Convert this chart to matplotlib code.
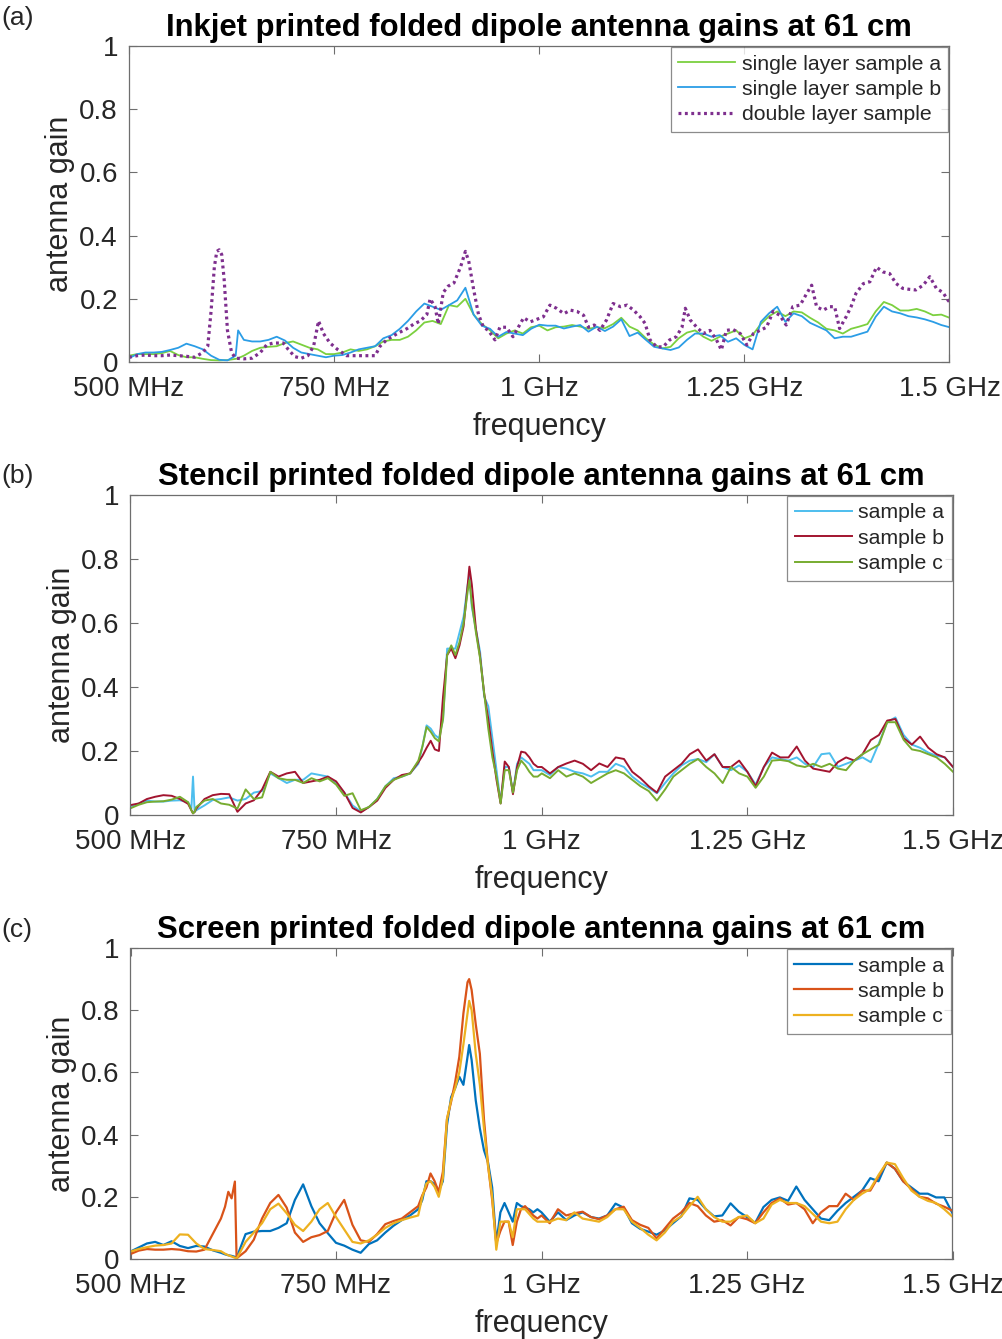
import numpy as np
import matplotlib
matplotlib.use("Agg")
import matplotlib.pyplot as plt

plt.rcParams['font.family'] = ['Liberation Sans', 'DejaVu Sans']

# ---------------- data ----------------
xtick_vals = [500, 750, 1000, 1250, 1500]
xtick_labels = ['500 MHz', '750 MHz', '1 GHz', '1.25 GHz', '1.5 GHz']
ytick_vals = [0, 0.2, 0.4, 0.6, 0.8, 1.0]
ytick_labels = ['0', '0.2', '0.4', '0.6', '0.8', '1']

titles = ['Inkjet printed folded dipole antenna gains at 61 cm',
          'Stencil printed folded dipole antenna gains at 61 cm',
          'Screen printed folded dipole antenna gains at 61 cm']
panel_tags = ['(a)', '(b)', '(c)']

# ---- panel (a): inkjet ----
freq_a = list(range(500, 631, 10)) + [633] + list(range(640, 1501, 10))
labels_a = ['single layer sample a', 'single layer sample b', 'double layer sample']
inkjet_single_a = [
    0.02, 0.025, 0.025, 0.025, 0.028, 0.035, 0.022, 0.015, 0.015, 0.01, 0.006, 0.005, 0.006, 0.01,
    0.012,
    0.02, 0.035, 0.045, 0.048, 0.05, 0.06, 0.065, 0.055, 0.045, 0.04, 0.025, 0.025, 0.03, 0.04,
    0.035, 0.04, 0.05, 0.065, 0.07, 0.07, 0.08, 0.10, 0.125, 0.13, 0.12, 0.18, 0.175, 0.20, 0.15,
    0.12, 0.10, 0.075, 0.09, 0.10, 0.09, 0.11, 0.115,
    0.10, 0.11, 0.112, 0.117, 0.112, 0.105, 0.11, 0.107, 0.12, 0.14, 0.112, 0.10, 0.075, 0.055,
    0.043, 0.048, 0.075, 0.093, 0.10, 0.08, 0.067, 0.08, 0.09, 0.10, 0.075, 0.085, 0.12, 0.145,
    0.16, 0.145, 0.16, 0.157, 0.14, 0.125, 0.105, 0.10, 0.09, 0.105, 0.112, 0.12, 0.16, 0.19,
    0.18, 0.163, 0.163, 0.168, 0.16, 0.148, 0.15, 0.14]
inkjet_single_b = [
    0.012, 0.025, 0.03, 0.03, 0.032, 0.038, 0.045, 0.058, 0.05, 0.04, 0.02, 0.007, 0.005, 0.02,
    0.10,
    0.07, 0.065, 0.065, 0.07, 0.08, 0.068, 0.045, 0.03, 0.025, 0.02, 0.015, 0.02, 0.022, 0.03,
    0.04, 0.045, 0.05, 0.075, 0.085, 0.105, 0.13, 0.16, 0.185, 0.175, 0.165, 0.18, 0.195, 0.235,
    0.15, 0.115, 0.105, 0.08, 0.095, 0.09, 0.085, 0.105, 0.118,
    0.115, 0.115, 0.106, 0.112, 0.117, 0.096, 0.112, 0.098, 0.112, 0.135, 0.082, 0.093, 0.07,
    0.048, 0.043, 0.038, 0.046, 0.07, 0.09, 0.09, 0.08, 0.085, 0.064, 0.075, 0.054, 0.04, 0.127,
    0.154, 0.175, 0.127, 0.154, 0.145, 0.124, 0.112, 0.10, 0.075, 0.08, 0.08, 0.088, 0.096, 0.143,
    0.175, 0.16, 0.154, 0.145, 0.141, 0.135, 0.127, 0.117, 0.11]
freq_a_double = [
    500, 510, 520, 530, 540, 550, 560, 570, 580, 590, 596, 600, 604, 607, 610, 613, 616, 620, 625,
    630, 640, 650, 660, 668, 676, 688, 694, 702, 710, 718, 725, 731, 737, 745, 754, 765, 775, 790,
    800, 806, 814, 827, 839, 847, 855, 863, 867, 873, 877, 883, 889, 896, 904, 910, 914, 920, 926,
    932, 938, 946, 952, 960, 968, 981, 989, 1005, 1013, 1021, 1030, 1038, 1046, 1054, 1060, 1067,
    1074, 1082, 1090, 1099, 1107, 1115, 1123, 1129, 1135, 1143, 1151, 1159, 1167, 1174, 1178, 1184,
    1192, 1200, 1208, 1216, 1222, 1228, 1236, 1245, 1253, 1261, 1269, 1277, 1285, 1293, 1301, 1309,
    1318, 1326, 1332, 1338, 1346, 1354, 1360, 1366, 1374, 1380, 1386, 1395, 1403, 1411, 1419, 1427,
    1435, 1443, 1451, 1459, 1468, 1476, 1484, 1492, 1498, 1500]
inkjet_double = [
    0.015, 0.02, 0.022, 0.02, 0.02, 0.022, 0.02, 0.018, 0.015, 0.03, 0.05, 0.16, 0.30, 0.35, 0.355,
    0.34, 0.26, 0.10, 0.03, 0.012, 0.01, 0.012, 0.03, 0.055, 0.06, 0.06, 0.04, 0.017, 0.012, 0.02,
    0.05, 0.13, 0.09, 0.06, 0.04, 0.02, 0.02, 0.02, 0.02, 0.05, 0.07, 0.09, 0.106, 0.12, 0.13,
    0.15, 0.20, 0.175, 0.12, 0.22, 0.24, 0.25, 0.30, 0.35, 0.32, 0.23, 0.15, 0.11, 0.10, 0.07,
    0.11, 0.11, 0.08, 0.14, 0.127, 0.143, 0.18, 0.17, 0.153, 0.164, 0.16, 0.148, 0.11, 0.117,
    0.10, 0.133, 0.185, 0.175, 0.18, 0.164, 0.143, 0.122, 0.07, 0.048, 0.048, 0.07, 0.08, 0.11,
    0.17, 0.133, 0.11, 0.09, 0.10, 0.07, 0.038, 0.10, 0.103, 0.09, 0.054, 0.09, 0.10, 0.11, 0.16,
    0.148, 0.117, 0.175, 0.18, 0.217, 0.243, 0.175, 0.164, 0.175, 0.175, 0.106, 0.143, 0.175,
    0.217, 0.248, 0.254, 0.30, 0.285, 0.28, 0.248, 0.233, 0.23, 0.228, 0.243, 0.27, 0.233, 0.22,
    0.196, 0.19]

# ---- panel (b): stencil ----
freq_b = (list(range(500, 571, 10)) + [574, 576, 578] + list(range(580, 851, 10))
          + list(range(855, 911, 5)) + [912] + list(range(915, 1001, 5))
          + list(range(1010, 1501, 10)))
labels_b = ['sample a', 'sample b', 'sample c']
stencil_a = [
    0.026, 0.036, 0.045, 0.042, 0.042, 0.045, 0.046, 0.04,
    0.02, 0.12, 0.01,
    0.015, 0.03, 0.047, 0.05, 0.055, 0.045, 0.05, 0.07, 0.075, 0.13, 0.115, 0.10, 0.11, 0.11,
    0.13, 0.125, 0.12, 0.10, 0.07, 0.03, 0.011, 0.025, 0.05, 0.09, 0.115, 0.12, 0.13, 0.16,
    0.215, 0.28, 0.27, 0.25, 0.24, 0.30, 0.52, 0.52, 0.52, 0.57, 0.62, 0.72, 0.745, 0.65, 0.58,
    0.51, 0.37, 0.34, 0.24, 0.14, 0.04, 0.15, 0.15, 0.07, 0.16, 0.18, 0.17, 0.16, 0.14, 0.14, 0.14,
    0.125, 0.15, 0.145, 0.135, 0.13, 0.12, 0.135, 0.135, 0.16, 0.15, 0.12, 0.10, 0.085, 0.068,
    0.10, 0.13, 0.155, 0.17, 0.175, 0.165, 0.19, 0.15, 0.14, 0.155, 0.135, 0.095, 0.15, 0.18,
    0.175, 0.17, 0.18, 0.16, 0.15, 0.19, 0.193, 0.15, 0.16, 0.17, 0.18, 0.165, 0.225, 0.29,
    0.305, 0.25, 0.22, 0.21, 0.195, 0.185, 0.18, 0.15]
stencil_b = [
    0.031, 0.036, 0.05, 0.057, 0.062, 0.06, 0.05, 0.035,
    0.015, 0.005, 0.01,
    0.02, 0.05, 0.062, 0.066, 0.065, 0.01, 0.036, 0.046, 0.08, 0.135, 0.12, 0.13, 0.135, 0.10,
    0.105, 0.11, 0.12, 0.105, 0.07, 0.022, 0.008, 0.025, 0.045, 0.085, 0.11, 0.125, 0.13, 0.165,
    0.185, 0.21, 0.232, 0.205, 0.20, 0.37, 0.50, 0.52, 0.49, 0.53, 0.59, 0.72, 0.776, 0.72, 0.58,
    0.495, 0.38, 0.30, 0.20, 0.11, 0.036, 0.167, 0.15, 0.065, 0.15, 0.198, 0.195, 0.18, 0.16,
    0.15, 0.15,
    0.13, 0.15, 0.161, 0.17, 0.16, 0.14, 0.161, 0.15, 0.18, 0.175, 0.135, 0.115, 0.09, 0.07,
    0.12, 0.14, 0.16, 0.19, 0.205, 0.17, 0.19, 0.15, 0.15, 0.17, 0.135, 0.09, 0.15, 0.195, 0.18,
    0.18, 0.214, 0.17, 0.145, 0.14, 0.135, 0.165, 0.18, 0.17, 0.19, 0.234, 0.25, 0.295, 0.30,
    0.24, 0.22, 0.245, 0.21, 0.19, 0.18, 0.15]
stencil_c = [
    0.021, 0.032, 0.04, 0.042, 0.043, 0.048, 0.057, 0.04,
    0.015, 0.005, 0.01,
    0.025, 0.045, 0.05, 0.036, 0.032, 0.02, 0.08, 0.05, 0.055, 0.135, 0.115, 0.11, 0.11, 0.10,
    0.115, 0.105, 0.115, 0.095, 0.06, 0.068, 0.015, 0.025, 0.05, 0.09, 0.11, 0.12, 0.13, 0.17,
    0.215, 0.275, 0.26, 0.24, 0.23, 0.30, 0.50, 0.53, 0.50, 0.54, 0.60, 0.70, 0.734, 0.66, 0.57,
    0.49, 0.38, 0.27, 0.18, 0.12, 0.036, 0.14, 0.14, 0.07, 0.14, 0.17, 0.155, 0.135, 0.12, 0.12,
    0.13,
    0.115, 0.14, 0.12, 0.13, 0.12, 0.10, 0.115, 0.13, 0.14, 0.13, 0.11, 0.09, 0.075, 0.045,
    0.08, 0.12, 0.14, 0.16, 0.175, 0.15, 0.13, 0.10, 0.15, 0.13, 0.12, 0.085, 0.12, 0.17, 0.172,
    0.168, 0.155, 0.15, 0.16, 0.15, 0.16, 0.145, 0.14, 0.17, 0.19, 0.205, 0.22, 0.29, 0.29,
    0.235, 0.205, 0.20, 0.19, 0.18, 0.16, 0.135]

# ---- panel (c): screen ----
freq_c = (list(range(500, 601, 10)) + [610, 615, 619, 623, 627, 629]
          + list(range(630, 851, 10)) + list(range(855, 911, 5)) + [912]
          + list(range(915, 1001, 5)) + list(range(1010, 1501, 10)))
labels_c = ['sample a', 'sample b', 'sample c']
screen_a = [
    0.024, 0.037, 0.05, 0.055, 0.045, 0.057, 0.042, 0.035, 0.042, 0.04, 0.028,
    0.02, 0.015, 0.012, 0.01, 0.007, 0.005,
    0.01, 0.08, 0.088, 0.09, 0.09, 0.10, 0.115, 0.19, 0.24, 0.17, 0.115, 0.083, 0.052, 0.043,
    0.03, 0.02, 0.048, 0.06, 0.085, 0.107, 0.125, 0.14, 0.16,
    0.19, 0.25, 0.25, 0.24, 0.22, 0.25, 0.43, 0.52, 0.55, 0.586, 0.56, 0.65, 0.688, 0.64, 0.51,
    0.42, 0.35, 0.31, 0.23, 0.05, 0.15, 0.18, 0.15, 0.12, 0.18, 0.17, 0.165, 0.16, 0.15, 0.16,
    0.15,
    0.12, 0.15, 0.125, 0.14, 0.15, 0.135, 0.13, 0.14, 0.178, 0.165, 0.115, 0.097, 0.088, 0.078,
    0.092, 0.115, 0.137, 0.195, 0.19, 0.16, 0.137, 0.14, 0.179, 0.152, 0.135, 0.116, 0.167,
    0.19, 0.198, 0.187, 0.233, 0.19, 0.16, 0.13, 0.125, 0.155, 0.18, 0.20, 0.22, 0.26, 0.25,
    0.31, 0.29, 0.25, 0.23, 0.21, 0.21, 0.198, 0.198, 0.147]
screen_b = [
    0.016, 0.027, 0.032, 0.03, 0.03, 0.032, 0.03, 0.025, 0.024, 0.03, 0.08,
    0.13, 0.168, 0.216, 0.195, 0.249, 0.008,
    0.004, 0.025, 0.062, 0.13, 0.18, 0.206, 0.165, 0.085, 0.055, 0.07, 0.077, 0.09, 0.15, 0.19,
    0.11, 0.06, 0.055, 0.08, 0.112, 0.122, 0.13, 0.15, 0.17,
    0.205, 0.23, 0.275, 0.25, 0.215, 0.28, 0.45, 0.505, 0.57, 0.65, 0.79, 0.89, 0.9, 0.865,
    0.755, 0.66, 0.45, 0.30, 0.19, 0.05, 0.09, 0.12, 0.12, 0.045, 0.12, 0.16, 0.17, 0.155, 0.14,
    0.13, 0.14,
    0.115, 0.16, 0.14, 0.147, 0.152, 0.135, 0.128, 0.14, 0.16, 0.168, 0.125, 0.11, 0.10, 0.066,
    0.098, 0.13, 0.15, 0.18, 0.17, 0.14, 0.12, 0.125, 0.108, 0.135, 0.128, 0.115, 0.15, 0.18,
    0.195, 0.175, 0.18, 0.16, 0.115, 0.15, 0.17, 0.17, 0.21, 0.19, 0.22, 0.22, 0.265, 0.31,
    0.29, 0.25, 0.225, 0.20, 0.195, 0.178, 0.168, 0.155]
screen_c = [
    0.024, 0.032, 0.038, 0.043, 0.045, 0.05, 0.079, 0.078, 0.05, 0.032, 0.029,
    0.025, 0.017, 0.012, 0.008, 0.004, 0.002,
    0.005, 0.055, 0.085, 0.115, 0.16, 0.178, 0.147, 0.11, 0.09, 0.12, 0.16, 0.18, 0.135, 0.095,
    0.055, 0.05, 0.06, 0.078, 0.10, 0.115, 0.125, 0.133, 0.14,
    0.20, 0.243, 0.25, 0.232, 0.20, 0.26, 0.45, 0.51, 0.55, 0.60, 0.69, 0.79, 0.83, 0.80, 0.66,
    0.56, 0.42, 0.30, 0.20, 0.03, 0.12, 0.12, 0.12, 0.07, 0.16, 0.16, 0.16, 0.145, 0.13, 0.12,
    0.12,
    0.12, 0.13, 0.125, 0.15, 0.13, 0.125, 0.12, 0.135, 0.16, 0.16, 0.12, 0.10, 0.078, 0.06,
    0.085, 0.12, 0.137, 0.17, 0.20, 0.16, 0.135, 0.12, 0.12, 0.135, 0.14, 0.115, 0.13, 0.175,
    0.19, 0.18, 0.18, 0.17, 0.145, 0.12, 0.115, 0.12, 0.16, 0.19, 0.21, 0.225, 0.27, 0.31,
    0.305, 0.26, 0.22, 0.20, 0.187, 0.18, 0.16, 0.136]

# ---------------- figure ----------------
W, H = 1003, 1339
fig = plt.figure(figsize=(W / 100, H / 100), dpi=100)

def axes_px(left, right, top, bottom):
    return fig.add_axes([left / W, 1 - bottom / H, (right - left) / W, (bottom - top) / H])

ax_a = axes_px(129, 949.5, 46, 362)
ax_b = axes_px(130.5, 953, 495, 815)
ax_c = axes_px(130.5, 952.5, 948, 1259)

ax_a.plot(freq_a, inkjet_single_a, color='#7bd03f', lw=1.3, label=labels_a[0])
ax_a.plot(freq_a, inkjet_single_b, color='#2b9de6', lw=1.3, label=labels_a[1])
ax_a.plot(freq_a_double, inkjet_double, color='#7e2f8e', lw=2.3, ls=(0, (0.9, 1.1)),
          label=labels_a[2])

ax_b.plot(freq_b, stencil_a, color='#4dbeee', lw=1.4, label=labels_b[0])
ax_b.plot(freq_b, stencil_b, color='#a2142f', lw=1.4, label=labels_b[1])
ax_b.plot(freq_b, stencil_c, color='#77ac30', lw=1.4, label=labels_b[2])

ax_c.plot(freq_c, screen_a, color='#0072bd', lw=1.6, label=labels_c[0])
ax_c.plot(freq_c, screen_b, color='#d95319', lw=1.6, label=labels_c[1])
ax_c.plot(freq_c, screen_c, color='#edb120', lw=1.6, label=labels_c[2])

edge = '#6e6e6e'
txt = '#262626'
tag_y = [18, 476, 930]
for ax, title, tag, ty in zip([ax_a, ax_b, ax_c], titles, panel_tags, tag_y):
    ax.set_xlim(500, 1500)
    ax.set_ylim(0, 1)
    ax.set_xticks(xtick_vals)
    ax.set_xticklabels(xtick_labels)
    ax.set_yticks(ytick_vals)
    ax.set_yticklabels(ytick_labels)
    ax.tick_params(direction='in', top=True, right=True, length=6, width=0.8,
                   color=edge, labelcolor=txt, labelsize=20)
    ax.tick_params(axis='x', pad=10)
    ax.tick_params(axis='y', pad=8)
    for s in ax.spines.values():
        s.set_color(edge)
        s.set_linewidth(0.9)
    ax.set_xlabel('frequency', fontsize=22, color=txt, labelpad=7)
    ax.set_ylabel('antenna gain', fontsize=22, color=txt, labelpad=3)
    ax.set_title(title, fontsize=22.3, fontweight='bold', color='black', pad=7)
    leg = ax.legend(loc='upper right', fontsize=15.3, frameon=True, fancybox=False,
                    borderaxespad=0.05, handlelength=2.7, handletextpad=0.3,
                    labelspacing=0.3, borderpad=0.35)
    leg.get_frame().set_edgecolor(edge)
    leg.get_frame().set_linewidth(0.9)
    for t in leg.get_texts():
        t.set_color(txt)
    fig.text(0.001, 1 - ty / H, tag, fontsize=19, color=txt, ha='left', va='center')

fig.savefig('out.png', dpi=100, facecolor='white')
